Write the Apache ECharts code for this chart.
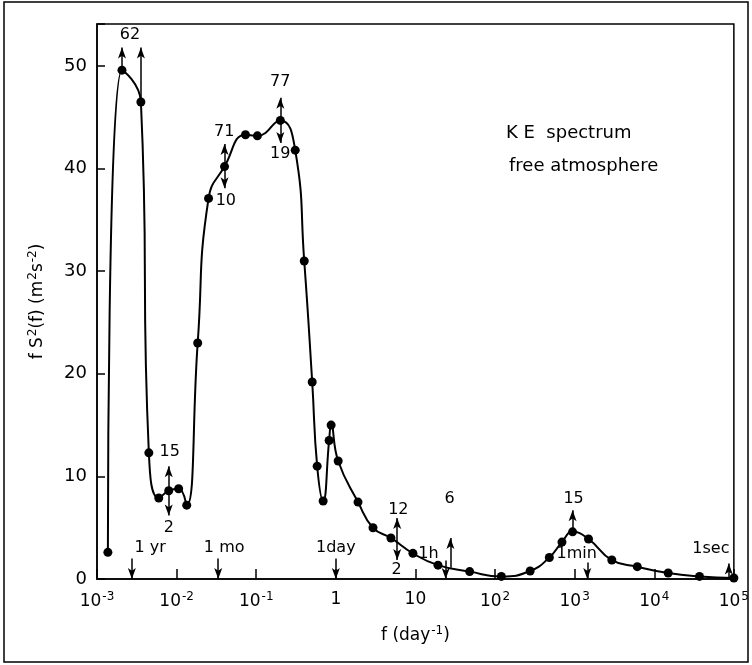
<!DOCTYPE html>
<html>
<head>
<meta charset="utf-8">
<script src="https://cdn.jsdelivr.net/npm/echarts@6/dist/echarts.min.js"></script>
<style>
  html, body { margin: 0; padding: 0; background: #fff; }
  #chart { width: 752px; height: 665px; }
</style>
</head>
<body>
<div id="chart"></div>
<script>
// frequency (day^-1) and f*S^2(f) (m^2 s^-2)
const freq = [
  0.00137, 0.00206, 0.00356, 0.00448, 0.00597, 0.00796, 0.0106, 0.0134,
  0.0184, 0.0252, 0.040, 0.0733, 0.1035, 0.201, 0.309, 0.401, 0.505,
  0.583, 0.693, 0.824, 0.873, 1.07, 1.90, 2.93, 4.92, 9.3, 19.2, 48,
  120, 276, 481, 693, 942, 1493, 2930, 6120, 14960, 37000, 100000
];
const energy = [
  2.6, 49.6, 46.5, 12.3, 7.9, 8.6, 8.8, 7.2,
  23.0, 37.1, 40.2, 43.3, 43.2, 44.7, 41.8, 31.0, 19.2,
  11.0, 7.6, 13.5, 15.0, 11.5, 7.5, 5.0, 4.0, 2.5, 1.35, 0.72,
  0.25, 0.78, 2.1, 3.6, 4.6, 3.9, 1.85, 1.2, 0.58, 0.25, 0.1
];

// off-scale / uncertainty arrows: [freq, from, to]
const arrows = [
  [0.00206, 49.6, 51.8], [0.00356, 46.5, 51.8],
  [0.00796, 8.6, 11.0], [0.00796, 8.6, 6.2],
  [0.040, 40.2, 42.4], [0.040, 40.2, 38.1],
  [0.201, 44.7, 46.9], [0.201, 44.7, 42.5],
  [5.9, 4.3, 5.95], [5.9, 4.3, 1.85],
  [27.5, 1.1, 4.0],
  [942, 4.6, 6.7],
  // period markers
  [1 / 365, 2.0, 0], [1 / 30, 2.0, 0], [1, 2.0, 0],
  [24, 1.8, 0], [1440, 1.6, 0], [86400, 0.1, 1.5]
];

// annotation texts: [freq, value, text]
const notes = [
  [0.0026, 53.0, '62'],
  [0.0082, 12.4, '15'], [0.00796, 5.0, '2'],
  [0.0396, 43.6, '71'], [0.0415, 36.9, '10'],
  [0.2, 48.5, '77'], [0.2, 41.4, '19'],
  [6.1, 6.7, '12'], [5.8, 0.9, '2'],
  [26.8, 7.8, '6'],
  [970, 7.8, '15'],
  [0.00464, 3.0, '1 yr'], [0.0396, 3.0, '1 mo'], [1.0, 3.0, '1day'],
  [14.6, 2.5, '1h'], [1059, 2.5, '1min'], [51400, 2.9, '1sec']
];

const yTicks = [0, 10, 20, 30, 40, 50];

const FONT = 'DejaVu Sans';
const chart = echarts.init(document.getElementById('chart'));

const supRich = {
  s: { fontSize: 12, fontFamily: FONT, color: '#000', verticalAlign: 'top', padding: [0, 0, 10, 1] }
};

const option = {
  backgroundColor: '#fff',
  animation: false,
  textStyle: { fontFamily: FONT, color: '#000' },
  graphic: [
    {
      type: 'rect',
      shape: { x: 4, y: 2, width: 744, height: 660 },
      style: { fill: 'none', stroke: '#000', lineWidth: 1.5 },
      silent: true
    },
    {
      type: 'text', left: 506, top: 124,
      style: { text: 'K E  spectrum', font: '18px "DejaVu Sans"', fill: '#000' }
    },
    {
      type: 'text', left: 509, top: 157,
      style: { text: 'free atmosphere', font: '18px "DejaVu Sans"', fill: '#000' }
    }
  ],
  grid: {
    left: 97, right: 17, top: 24, bottom: 86,
    show: true, borderColor: '#000', borderWidth: 1.5
  },
  xAxis: {
    type: 'log',
    logBase: 10,
    min: 0.001,
    max: 100000,
    interval: 1,
    name: 'f (day{s|-1})',
    nameLocation: 'middle',
    nameGap: 46,
    nameTextStyle: { fontFamily: FONT, fontSize: 17, color: '#000', rich: supRich },
    axisLine: { lineStyle: { color: '#000', width: 1.5 } },
    axisTick: { inside: true, length: 10, lineStyle: { color: '#000', width: 1.5 } },
    splitLine: { show: false },
    axisLabel: {
      margin: 12,
      fontFamily: FONT,
      fontSize: 17,
      color: '#000',
      formatter: function (v) {
        const e = Math.round(Math.log10(v));
        if (e === 0) return '1';
        if (e === 1) return '10';
        return '10{s|' + e + '}';
      },
      rich: supRich
    }
  },
  yAxis: {
    type: 'value',
    min: yTicks[0],
    max: 54.1,
    interval: 10,
    name: 'f S{s|2}(f) (m{s|2}s{s|-2})',
    nameLocation: 'middle',
    nameGap: 48,
    nameTextStyle: { fontFamily: FONT, fontSize: 17, color: '#000', rich: supRich },
    axisLine: { show: true, lineStyle: { color: '#000', width: 1.5 } },
    axisTick: { show: true, inside: true, length: 8, lineStyle: { color: '#000', width: 1.5 } },
    splitLine: { show: false },
    axisLabel: {
      margin: 10,
      fontFamily: FONT,
      fontSize: 18,
      color: '#000',
      formatter: function (v) { return yTicks.indexOf(v) >= 0 ? String(v) : ''; }
    }
  },
  series: [
    {
      type: 'line',
      data: freq.map((f, i) => [f, energy[i]]),
      smooth: 0.5,
      symbol: 'circle',
      symbolSize: 9,
      itemStyle: { color: '#000' },
      lineStyle: { color: '#000', width: 2 },
      z: 3,
      markLine: {
        silent: true,
        symbol: ['none', 'arrow'],
        symbolSize: [6, 11],
        lineStyle: { color: '#000', width: 1.5, type: 'solid' },
        label: { show: false },
        data: arrows.map(a => [
          { coord: [a[0], a[1]] },
          { coord: [a[0], a[2]] }
        ])
      }
    },
    {
      type: 'scatter',
      data: notes.map(n => ({ value: [n[0], n[1]], name: n[2] })),
      symbolSize: 0,
      silent: true,
      label: {
        show: true,
        position: 'inside',
        formatter: p => p.name,
        fontFamily: FONT,
        fontSize: 16,
        color: '#000',
        opacity: 1,
        textBorderWidth: 0
      },
      z: 4
    }
  ]
};

chart.setOption(option);
</script>
</body>
</html>
